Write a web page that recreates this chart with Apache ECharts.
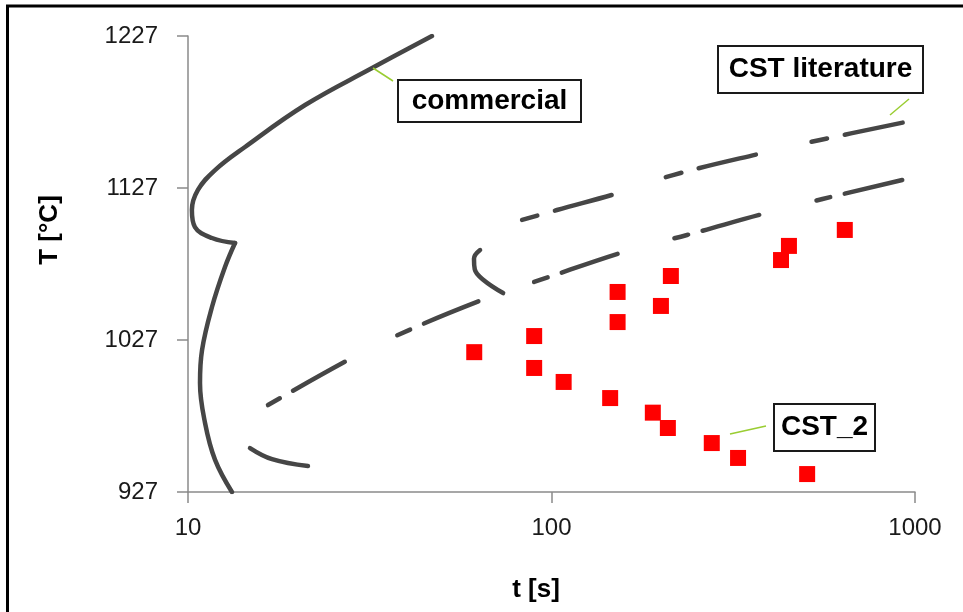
<!DOCTYPE html>
<html>
<head>
<meta charset="utf-8">
<script src="https://cdn.jsdelivr.net/npm/echarts@6/dist/echarts.min.js"></script>
<style>
  html, body { margin: 0; padding: 0; background: #fff; }
  #chart { width: 963px; height: 612px; }
</style>
</head>
<body>
<div id="chart"></div>
<script>
// axis ticks
var yTicks = [927, 1027, 1127, 1227];

// commercial (solid C-curve), t [s] / T [°C] -- upper branch down to the cusp
var commercialTime = [46.9, 32.1, 21.0, 14.35, 11.87, 10.65, 10.25, 10.45, 11.64, 13.47];
var commercialTemp = [1227, 1205.9, 1181.6, 1154.0, 1138.8, 1125.7, 1112.5, 1101.3, 1094.1, 1090.8];
// lower branch from the cusp to the x axis
var commercialLowerTime = [13.47, 12.64, 11.64, 10.93, 10.79, 11.14, 11.87, 13.21];
var commercialLowerTemp = [1090.8, 1075.0, 1048.7, 1020.4, 998.7, 972.4, 948.1, 927];
// commercial small lower nose
var commercialNoseTime = [14.81, 17.03, 21.38];
var commercialNoseTemp = [955.9, 948.6, 944.1];

// CST literature (dashed)
var litLowerTime = [16.6, 27.55, 37.8, 66.5, 93.0, 164.4, 236, 420, 1000];
var litLowerTemp = [984.2, 1013.8, 1030.3, 1054.6, 1066.5, 1086.2, 1096.1, 1112.5, 1134.2];
var litUpperTime = [83.0, 103.5, 156.3, 215.9, 391.5, 548, 1000];
var litUpperTemp = [1106, 1112.5, 1124.4, 1135.5, 1150.7, 1158.6, 1171.7];
var litNoseTime = [63.6, 61.2, 61.5, 65.0, 73.6];
var litNoseTemp = [1086.2, 1080.5, 1073.5, 1066.5, 1057.9];

// CST_2 measured points
var cst2Time = [61.3, 89.6, 89.6, 108, 145, 152, 152, 190, 209, 276, 326, 505, 213, 200, 428, 450, 641];
var cst2Temp = [1019, 1029.6, 1008.6, 999.4, 988.8, 1058.6, 1038.8, 979.2, 969.1, 959.2, 949.4, 938.8, 1069.1, 1049.4, 1079.6, 1088.9, 1099.4];

function pairs(xs, ys) {
  return xs.map(function (x, i) { return [x, ys[i]]; });
}

var chart = echarts.init(document.getElementById('chart'));

var curveColor = '#464646';
var labelFont = 'Liberation Sans, Arial, sans-serif';

function curve(name, xs, ys, dash) {
  return {
    name: name,
    type: 'line',
    data: pairs(xs, ys),
    showSymbol: false,
    symbol: 'none',
    smooth: 0.4,
    silent: true,
    lineStyle: {
      color: curveColor,
      width: 4.5,
      type: dash || 'solid',
      cap: 'round',
      join: 'round'
    },
    z: 2
  };
}

// annotation box
function box(x, y, w, h, text) {
  return [
    {
      type: 'rect',
      shape: { x: x, y: y, width: w, height: h },
      style: { fill: '#fff', stroke: '#1a1a1a', lineWidth: 2 },
      z: 100
    },
    {
      type: 'text',
      x: x + w / 2,
      y: y + h / 2,
      style: {
        text: text,
        font: 'bold 28px ' + labelFont,
        fill: '#000',
        textAlign: 'center',
        textVerticalAlign: 'middle'
      },
      z: 101
    }
  ];
}

function leader(x1, y1, x2, y2) {
  return {
    type: 'line',
    shape: { x1: x1, y1: y1, x2: x2, y2: y2 },
    style: { stroke: '#9acd32', lineWidth: 1.5 },
    z: 99
  };
}

var option = {
  backgroundColor: '#fff',
  animation: false,
  grid: { left: 188, right: 48, top: 36, bottom: 120 },
  xAxis: {
    type: 'log',
    logBase: 10,
    min: 10,
    max: 1000,
    axisLine: { show: true, lineStyle: { color: '#8a8a8a', width: 1.5 } },
    axisTick: { show: true, length: 11, lineStyle: { color: '#8a8a8a', width: 1.5 } },
    minorTick: { show: false },
    splitLine: { show: false },
    axisLabel: {
      color: '#1a1a1a', fontSize: 24, fontFamily: labelFont, margin: 24,
      formatter: function (v) { return String(Math.round(v)); }
    }
  },
  yAxis: {
    type: 'value',
    min: 927,
    max: 1227,
    axisLine: { show: true, lineStyle: { color: '#8a8a8a', width: 1.5 } },
    axisTick: { show: true, length: 11, customValues: yTicks, lineStyle: { color: '#8a8a8a', width: 1.5 } },
    splitLine: { show: false },
    axisLabel: {
      color: '#1a1a1a', fontSize: 24, fontFamily: labelFont, margin: 30, customValues: yTicks,
      formatter: function (v) { return String(Math.round(v)); }
    }
  },
  series: [
    curve('commercial', commercialTime, commercialTemp),
    curve('commercial lower', commercialLowerTime, commercialLowerTemp),
    curve('commercial nose', commercialNoseTime, commercialNoseTemp),
    curve('CST literature', litLowerTime, litLowerTemp, [14, 15, 59, 59]),
    curve('CST literature upper', litUpperTime, litUpperTemp, [16, 18, 59, 57]),
    curve('CST literature nose', litNoseTime, litNoseTemp),
    {
      name: 'CST_2',
      type: 'scatter',
      data: pairs(cst2Time, cst2Temp),
      symbol: 'rect',
      symbolSize: 16,
      itemStyle: { color: '#ff0000', opacity: 1 },
      z: 3
    }
  ],
  graphic: [
    // outer frame (image is cropped on right / bottom)
    {
      type: 'rect',
      shape: { x: 7.5, y: 6, width: 1100, height: 800 },
      style: { fill: null, stroke: '#000', lineWidth: 3 },
      z: 120
    },
    {
      type: 'text',
      x: 50,
      y: 230,
      rotation: Math.PI / 2,
      style: {
        text: 'T [°C]',
        font: 'bold 26px ' + labelFont,
        fill: '#000',
        textAlign: 'center',
        textVerticalAlign: 'middle'
      }
    },
    {
      type: 'text',
      x: 536,
      y: 590,
      style: {
        text: 't [s]',
        font: 'bold 26px ' + labelFont,
        fill: '#000',
        textAlign: 'center',
        textVerticalAlign: 'middle'
      }
    },
    leader(373, 68, 393, 81),
    leader(890, 115, 909, 99),
    leader(730, 434, 766, 426)
  ].concat(
    box(398, 80, 183, 42, 'commercial'),
    box(718, 46, 205, 47, 'CST literature'),
    box(774, 404, 101, 47, 'CST_2')
  )
};

chart.setOption(option);
</script>
</body>
</html>
